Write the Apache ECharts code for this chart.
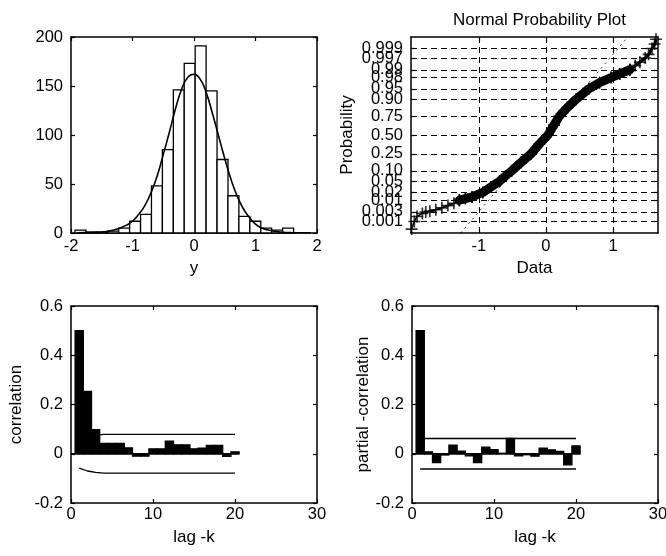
<!DOCTYPE html>
<html>
<head>
<meta charset="utf-8">
<script src="https://cdn.jsdelivr.net/npm/echarts@6/dist/echarts.min.js"></script>
<style>
html,body{margin:0;padding:0;background:#fff;}
#chart{width:666px;height:556px;}
</style>
</head>
<body>
<div id="chart"></div>
<script>
// ---------- Histogram (top-left) ----------
const histCenters = [-1.846,-1.669,-1.491,-1.313,-1.136,-0.958,-0.780,-0.603,-0.425,-0.247,-0.070,0.108,0.286,0.464,0.641,0.819,0.997,1.174,1.352,1.530];
const histCounts  = [3,1,1,2,5,12,19,48,85,146,173,191,145,75,38,17,12,5,3,5];
const histBinWidth = 0.1777;
const fitX = [-1.9,-1.6,-1.4,-1.25,-1.1,-1.0,-0.9,-0.8,-0.7,-0.6,-0.5,-0.4,-0.3,-0.2,-0.1,0.0,0.1,0.2,0.3,0.4,0.5,0.6,0.7,0.8,0.9,1.0,1.1,1.25,1.4,1.6,1.9];
const fitY = [0.1,0.6,1.8,4,8,12,19,28,41,58,80,103,127,147,159,162,157,143,122,99,76,55,38,25,16,9,5,2.5,1,0.3,0.1];

// ---------- Normal probability plot (top-right) ----------
const probTickLabels = ['0.001','0.003','0.01','0.02','0.05','0.10','0.25','0.50','0.75','0.90','0.95','0.98','0.99','0.997','0.999'];
const probTickZ = [-3.090,-2.748,-2.326,-2.054,-1.645,-1.282,-0.674,0,0.674,1.282,1.645,2.054,2.326,2.748,3.090];
const probXTicks = [-1, 0, 1];
const tailLowX = [-2.0,-1.96,-1.92,-1.84,-1.79,-1.73,-1.64,-1.55,-1.46,-1.37,-1.29];
const tailLowZ = [-3.36,-3.09,-2.91,-2.80,-2.75,-2.72,-2.67,-2.60,-2.52,-2.44,-2.33];
const bandX = [-1.29,-1.2,-1.1,-0.94,-0.82,-0.69,-0.6,-0.51,-0.37,-0.22,-0.1,0.03,0.12,0.2,0.32,0.45,0.55,0.64,0.8,0.97,1.1,1.25];
const bandZ = [-2.33,-2.27,-2.21,-2.05,-1.86,-1.65,-1.46,-1.28,-0.98,-0.67,-0.33,0.0,0.35,0.67,0.98,1.28,1.47,1.65,1.87,2.05,2.18,2.33];
const tailHighX = [1.25,1.33,1.4,1.48,1.53,1.58,1.62,1.64];
const tailHighZ = [2.33,2.48,2.6,2.75,2.88,3.09,3.25,3.42];
const refLineX = [-1.27, 1.22];
const refLineZ = [-3.5, 3.5];

// ---------- ACF / PACF (bottom) ----------
const lags = [1,2,3,4,5,6,7,8,9,10,11,12,13,14,15,16,17,18,19,20];
const acfVals = [0.5,0.253,0.098,0.042,0.042,0.042,0.024,-0.01,-0.01,0.02,0.02,0.051,0.036,0.036,0.02,0.023,0.034,0.034,-0.011,0.008];
const acfBound = [0.058,0.07,0.076,0.079,0.079,0.079,0.079,0.079,0.079,0.079,0.079,0.079,0.079,0.079,0.079,0.079,0.079,0.079,0.079,0.079];
const pacfVals = [0.5,0.008,-0.036,-0.005,0.035,0.011,-0.009,-0.036,0.027,0.017,0.002,0.062,-0.009,-0.004,-0.01,0.023,0.016,0.01,-0.045,0.032];
const pacfBound = [0.062,0.062,0.062,0.062,0.062,0.062,0.062,0.062,0.062,0.062,0.062,0.062,0.062,0.062,0.062,0.062,0.062,0.062,0.062,0.062];
const baselineX = [0, 20.5];

// ---------- styling helpers ----------
const FONT = 'Liberation Sans';
const TICK_FS = 16.5;
const NAME_FS = 17;
const plusPath = 'path://M4.3,0H5.7V4.3H10V5.7H5.7V10H4.3V5.7H0V4.3H4.3Z';

function zip(a, b) { return a.map((v, i) => [v, b[i]]); }

function fmtNum(v) {
  if (Math.abs(v) < 1e-9) return '0';
  return String(+v.toFixed(2));
}

const tickStyle = { show: true, inside: true, length: 4, lineStyle: { color: '#000', width: 1.2 } };
const lineStyleAxis = { show: true, onZero: false, lineStyle: { color: '#000', width: 1.5 } };

function mainX(gi, opt) {
  return Object.assign({
    type: 'value', gridIndex: gi, position: 'bottom',
    axisLine: lineStyleAxis,
    axisTick: tickStyle,
    axisLabel: { color: '#000', fontSize: TICK_FS, fontFamily: FONT, margin: 5, formatter: fmtNum },
    splitLine: { show: false },
    nameLocation: 'middle',
    nameTextStyle: { color: '#000', fontSize: NAME_FS, fontFamily: FONT }
  }, opt);
}
function twinX(gi, opt) {
  return Object.assign({
    type: 'value', gridIndex: gi, position: 'top',
    axisLine: lineStyleAxis, axisTick: tickStyle,
    axisLabel: { show: false }, splitLine: { show: false }
  }, opt);
}
function mainY(gi, opt) {
  return Object.assign({
    type: 'value', gridIndex: gi, position: 'left',
    axisLine: lineStyleAxis, axisTick: tickStyle,
    axisLabel: { color: '#000', fontSize: TICK_FS, fontFamily: FONT, margin: 8, formatter: fmtNum },
    splitLine: { show: false },
    nameLocation: 'middle',
    nameTextStyle: { color: '#000', fontSize: NAME_FS, fontFamily: FONT }
  }, opt);
}
function twinY(gi, opt) {
  return Object.assign({
    type: 'value', gridIndex: gi, position: 'right',
    axisLine: lineStyleAxis, axisTick: tickStyle,
    axisLabel: { show: false }, splitLine: { show: false }
  }, opt);
}

function barRenderer(halfWidth, fill) {
  return function (params, api) {
    const c = api.value(0), v = api.value(1);
    const p1 = api.coord([c - halfWidth, v]);
    const p2 = api.coord([c + halfWidth, 0]);
    return {
      type: 'rect',
      shape: { x: p1[0], y: Math.min(p1[1], p2[1]), width: p2[0] - p1[0], height: Math.abs(p2[1] - p1[1]) },
      style: { fill: fill, stroke: '#000', lineWidth: 1.3 }
    };
  };
}

const probLabelFor = (v) => {
  const i = probTickZ.findIndex(z => Math.abs(z - v) < 1e-6);
  return i >= 0 ? probTickLabels[i] : '';
};
// split the crowded probability labels over two label-only axes so none are dropped
const probZEven = probTickZ.filter((z, i) => i % 2 === 0);
const probZOdd = probTickZ.filter((z, i) => i % 2 === 1);
function probLabelAxis(values) {
  return {
    type: 'value', gridIndex: 1, position: 'left', min: -3.5, max: 3.5,
    axisLine: { show: false }, axisTick: { show: false }, splitLine: { show: false },
    axisLabel: { color: '#000', fontSize: TICK_FS, fontFamily: FONT, margin: 8, customValues: values,
                 formatter: probLabelFor, hideOverlap: false, showMinLabel: true, showMaxLabel: true }
  };
}

const dashStyle = { type: [6, 4], color: '#000', width: 1 };
const gridMarkLines = probTickZ.map(z => ({ yAxis: z })).concat(probXTicks.map(x => ({ xAxis: x })));
const probTick = { show: true, inside: true, length: 4, customValues: probTickZ, lineStyle: { color: '#000', width: 1.2 } };
const probXTick = { show: true, inside: true, length: 4, customValues: probXTicks, lineStyle: { color: '#000', width: 1.2 } };

const chart = echarts.init(document.getElementById('chart'), null, { renderer: 'canvas' });

const option = {
  animation: false,
  backgroundColor: '#fff',
  title: {
    text: 'Normal Probability Plot',
    left: 534.5, top: 7, textAlign: 'center',
    textStyle: { color: '#000', fontSize: NAME_FS, fontWeight: 'normal', fontFamily: FONT }
  },
  grid: [
    { left: 71, top: 37, width: 246, height: 196, outerBoundsMode: 'none' },
    { left: 411, top: 37, width: 247, height: 196, outerBoundsMode: 'none' },
    { left: 71, top: 306, width: 246, height: 197, outerBoundsMode: 'none' },
    { left: 412, top: 306, width: 246, height: 197, outerBoundsMode: 'none' }
  ],
  xAxis: [
    mainX(0, { min: -2, max: 2, interval: 1, name: 'y', nameGap: 27 }),
    twinX(0, { min: -2, max: 2, interval: 1 }),
    mainX(1, { min: -2.01, max: 1.67,
               axisLabel: { color: '#000', fontSize: TICK_FS, fontFamily: FONT, margin: 5, customValues: probXTicks, formatter: fmtNum },
               axisTick: probXTick, name: 'Data', nameGap: 27 }),
    twinX(1, { min: -2.01, max: 1.67, axisTick: probXTick }),
    mainX(2, { min: 0, max: 30, interval: 10, name: 'lag -k', nameGap: 26,
               axisLabel: { color: '#000', fontSize: TICK_FS, fontFamily: FONT, margin: 3, formatter: fmtNum } }),
    twinX(2, { min: 0, max: 30, interval: 10 }),
    mainX(3, { min: 0, max: 30, interval: 10, name: 'lag -k', nameGap: 26,
               axisLabel: { color: '#000', fontSize: TICK_FS, fontFamily: FONT, margin: 3, formatter: fmtNum } }),
    twinX(3, { min: 0, max: 30, interval: 10 })
  ],
  yAxis: [
    mainY(0, { min: 0, max: 200, interval: 50 }),
    twinY(0, { min: 0, max: 200, interval: 50 }),
    mainY(1, { min: -3.5, max: 3.5, axisLabel: { show: false },
               axisTick: probTick, name: 'Probability', nameGap: 55 }),
    twinY(1, { min: -3.5, max: 3.5, axisTick: probTick }),
    mainY(2, { min: -0.2, max: 0.6, interval: 0.2, name: 'correlation', nameGap: 46 }),
    twinY(2, { min: -0.2, max: 0.6, interval: 0.2 }),
    mainY(3, { min: -0.2, max: 0.6, interval: 0.2, name: 'partial -correlation', nameGap: 40 }),
    twinY(3, { min: -0.2, max: 0.6, interval: 0.2 }),
    probLabelAxis(probZEven),
    probLabelAxis(probZOdd)
  ],
  series: [
    // histogram
    { type: 'custom', xAxisIndex: 0, yAxisIndex: 0, renderItem: barRenderer(histBinWidth / 2, '#fff'),
      data: zip(histCenters, histCounts), z: 2 },
    { type: 'line', xAxisIndex: 0, yAxisIndex: 0, data: zip(fitX, fitY), smooth: true, symbol: 'none',
      lineStyle: { color: '#000', width: 1.6 }, z: 3 },

    // probability plot: gridlines + reference line
    { type: 'line', xAxisIndex: 2, yAxisIndex: 2, data: zip(refLineX, refLineZ), symbol: 'none',
      lineStyle: { color: '#000', width: 0.8, type: [2, 4] }, z: 2,
      markLine: { silent: true, symbol: ['none', 'none'], label: { show: false }, lineStyle: dashStyle, data: gridMarkLines } },
    // dense band
    { type: 'line', xAxisIndex: 2, yAxisIndex: 2, data: zip(bandX, bandZ), symbol: plusPath, symbolSize: 12, showAllSymbol: true,
      itemStyle: { color: '#000' }, lineStyle: { color: '#000', width: 9, join: 'round', cap: 'round' }, z: 4 },
    // tails
    { type: 'scatter', xAxisIndex: 2, yAxisIndex: 2, data: zip(tailLowX, tailLowZ), symbol: plusPath, symbolSize: 12,
      itemStyle: { color: '#000' }, z: 4 },
    { type: 'line', xAxisIndex: 2, yAxisIndex: 2, data: zip(tailLowX, tailLowZ), symbol: 'none',
      lineStyle: { color: '#000', width: 1.5 }, z: 4 },
    { type: 'scatter', xAxisIndex: 2, yAxisIndex: 2, data: zip(tailHighX, tailHighZ), symbol: plusPath, symbolSize: 12,
      itemStyle: { color: '#000' }, z: 4 },
    { type: 'line', xAxisIndex: 2, yAxisIndex: 2, data: zip(tailHighX, tailHighZ), symbol: 'none',
      lineStyle: { color: '#000', width: 3 }, z: 4 },

    // ACF
    { type: 'custom', xAxisIndex: 4, yAxisIndex: 4, renderItem: barRenderer(0.5, '#000'), data: zip(lags, acfVals), z: 2 },
    { type: 'line', xAxisIndex: 4, yAxisIndex: 4, data: zip(baselineX, [0, 0]), symbol: 'none', lineStyle: { color: '#000', width: 1.3 }, z: 3 },
    { type: 'line', xAxisIndex: 4, yAxisIndex: 4, data: zip(lags, acfBound), symbol: 'none', lineStyle: { color: '#000', width: 1.3 }, z: 3 },
    { type: 'line', xAxisIndex: 4, yAxisIndex: 4, data: zip(lags, acfBound.map(v => -v)), symbol: 'none', lineStyle: { color: '#000', width: 1.3 }, z: 3 },

    // PACF
    { type: 'custom', xAxisIndex: 6, yAxisIndex: 6, renderItem: barRenderer(0.5, '#000'), data: zip(lags, pacfVals), z: 2 },
    { type: 'line', xAxisIndex: 6, yAxisIndex: 6, data: zip(baselineX, [0, 0]), symbol: 'none', lineStyle: { color: '#000', width: 1.3 }, z: 3 },
    { type: 'line', xAxisIndex: 6, yAxisIndex: 6, data: zip(lags, pacfBound), symbol: 'none', lineStyle: { color: '#000', width: 1.3 }, z: 3 },
    { type: 'line', xAxisIndex: 6, yAxisIndex: 6, data: zip(lags, pacfBound.map(v => -v)), symbol: 'none', lineStyle: { color: '#000', width: 1.3 }, z: 3 }
  ]
};

chart.setOption(option);
</script>
</body>
</html>
